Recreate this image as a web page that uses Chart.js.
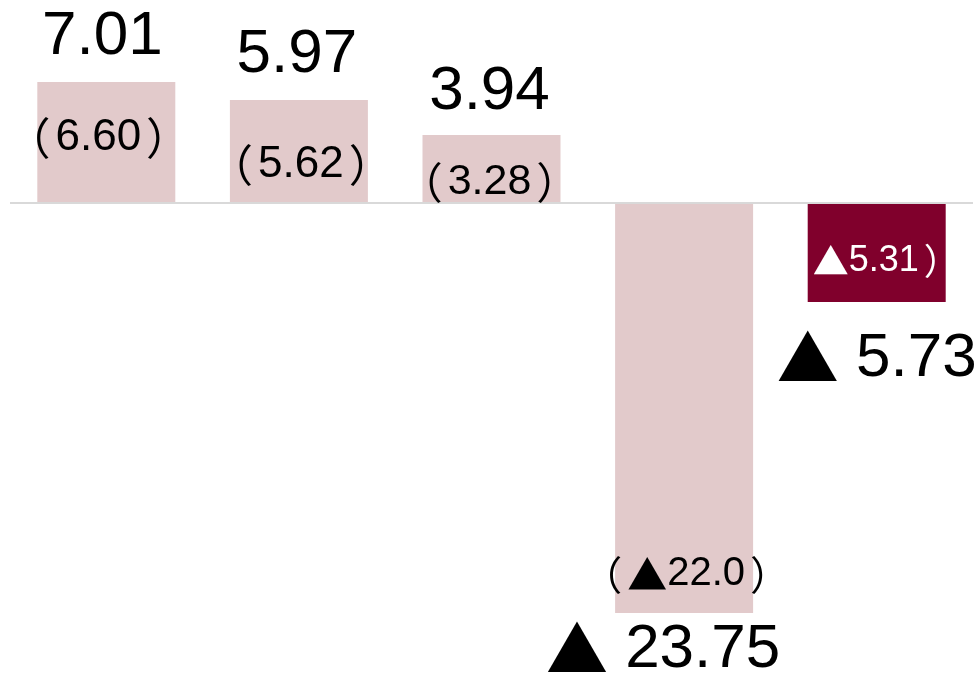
<!DOCTYPE html>
<html>
<head>
<meta charset="utf-8">
<script src="https://cdn.jsdelivr.net/npm/chart.js@4/dist/chart.umd.min.js"></script>
<style>
  html, body { margin: 0; padding: 0; background: #fff; }
  #wrap { width: 980px; height: 678px; position: relative; }
</style>
</head>
<body>
<div id="wrap"><canvas id="chart-bar"></canvas></div>
<script>
// data
var categories = ["A", "B", "C", "D", "E"];
var values = [7.01, 5.97, 3.94, -23.75, -5.73];
var prevValues = [6.60, 5.62, 3.28, -22.0, -5.31];
var prevDecimals = [2, 2, 2, 1, 2];

// styling
var barColors = ["#E2CACB", "#E2CACB", "#E2CACB", "#E2CACB", "#80002C"];
var innerColors = ["#000", "#000", "#000", "#000", "#fff"];
var innerSizes = [44, 44, 43, 40, 36];
var outerDx = [-4, -2, -2, -21, 0];
var outerDy = [-45, -45, -43, 37, 57];
var innerDx = [-8, 2, -2, 2, -11];
var innerDy = [-4, 14, 14, 166, 8];

var LAT = "'Liberation Sans', Arial, sans-serif";
var CJK = "'Noto Sans CJK JP', sans-serif";

// draw a row of text pieces, each with own font and extra gap, centred on x
function drawRuns(ctx, runs, size, x, y) {
  var total = 0;
  runs.forEach(function (r) {
    ctx.font = size + "px " + r[1];
    r[3] = ctx.measureText(r[0]).width + (r[2] || 0);
    total += r[3];
  });
  var cx = x - total / 2;
  ctx.textAlign = "left";
  runs.forEach(function (r) {
    ctx.font = size + "px " + r[1];
    ctx.fillText(r[0], cx, y);
    cx += r[3];
  });
}

function bigRuns(v) {
  var runs = [];
  if (v < 0) { runs.push(["\u25B2", CJK, 0]); runs.push([" ", LAT, 0]); }
  runs.push([Math.abs(v).toFixed(2), LAT, 0]);
  return runs;
}
function smallRuns(v, d) {
  var runs = [["\uFF08", CJK, 5]];
  if (v < 0) runs.push(["\u25B2", CJK, 0]);
  runs.push([Math.abs(v).toFixed(d), LAT, 5]);
  runs.push(["\uFF09", CJK, 0]);
  return runs;
}

var labelPlugin = {
  id: "barLabels",
  afterDatasetsDraw: function (chart) {
    var ctx = chart.ctx;
    var meta = chart.getDatasetMeta(0);
    ctx.save();
    ctx.textBaseline = "middle";
    meta.data.forEach(function (bar, i) {
      var top = Math.min(bar.y, bar.base);
      var bottom = Math.max(bar.y, bar.base);
      var mid = (top + bottom) / 2;
      ctx.fillStyle = "#000";
      var oy = values[i] >= 0 ? top + outerDy[i] : bottom + outerDy[i];
      drawRuns(ctx, bigRuns(values[i]), 62, bar.x + outerDx[i], oy);
      ctx.fillStyle = innerColors[i];
      drawRuns(ctx, smallRuns(prevValues[i], prevDecimals[i]), innerSizes[i], bar.x + innerDx[i], mid + innerDy[i]);
    });
    ctx.restore();
  }
};

var ctx1 = document.getElementById("chart-bar").getContext("2d");
new Chart(ctx1, {
  type: "bar",
  data: {
    labels: categories,
    datasets: [{
      data: values,
      backgroundColor: barColors,
      borderWidth: 0,
      barPercentage: 1,
      categoryPercentage: 0.7165
    }]
  },
  options: {
    responsive: true,
    maintainAspectRatio: false,
    animation: false,
    layout: { padding: { left: 10, right: 7, top: 0, bottom: 0 } },
    plugins: {
      legend: { display: false },
      tooltip: { enabled: false }
    },
    scales: {
      x: { display: false },
      y: {
        min: -27.52,
        max: 11.76,
        afterBuildTicks: function (scale) { scale.ticks = [{ value: 0 }]; },
        afterFit: function (scale) { scale.width = 0; },
        border: { display: false },
        grid: { color: "#D9D9D9", lineWidth: 2, drawTicks: false },
        ticks: { display: false }
      }
    }
  },
  plugins: [labelPlugin]
});
</script>
</body>
</html>
